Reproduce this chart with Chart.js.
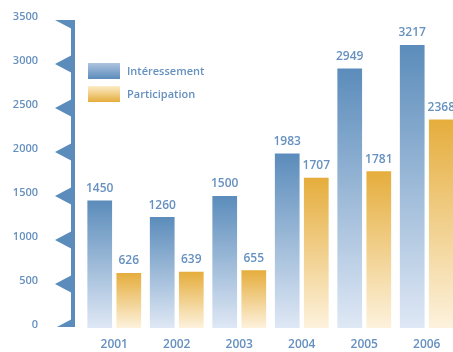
<!DOCTYPE html>
<html lang="fr">
<head>
<meta charset="UTF-8">
<title>Intéressement et participation</title>
<script src="https://cdn.jsdelivr.net/npm/chart.js"></script>
<style>
  html, body { margin: 0; padding: 0; background: #fff; overflow: hidden; }
  .wrap { position: relative; width: 470px; height: 352px; }
</style>
</head>
<body>
<div class="wrap"><canvas id="chart"></canvas></div>
<script>
const years = ['2001', '2002', '2003', '2004', '2005', '2006'];
const interessement = [1450, 1260, 1500, 1983, 2949, 3217];
const participation = [626, 639, 655, 1707, 1781, 2368];

const textColor = '#6590bf';
const axisColor = '#5b8cbb';
const fontFamily = '"Open Sans", "DejaVu Sans", sans-serif';

// vertical gradient for each bar, from its top down to zero
function barFill(topColor, bottomColor) {
  return (context) => {
    const chart = context.chart;
    const y = chart.scales.y;
    if (!chart.chartArea || !y || context.parsed == null) return topColor;
    const top = y.getPixelForValue(context.parsed.y);
    const bottom = y.getPixelForValue(0);
    const g = chart.ctx.createLinearGradient(0, top, 0, bottom);
    g.addColorStop(0, topColor);
    g.addColorStop(1, bottomColor);
    return g;
  };
}

// axis spine with notched arrowheads at each tick
const spinePlugin = {
  id: 'spine',
  afterDraw(chart) {
    const { ctx, chartArea } = chart;
    const y = chart.scales.y;
    const x0 = 71, x1 = 75, tip = 55, half = 9;
    ctx.save();
    ctx.beginPath();
    ctx.rect(0, chartArea.top, x1 + 1, chartArea.bottom - chartArea.top - 1);
    ctx.clip();
    ctx.fillStyle = axisColor;
    ctx.fillRect(x0, chartArea.top, x1 - x0, chartArea.bottom - chartArea.top);
    y.ticks.forEach(t => {
      const py = y.getPixelForValue(t.value);
      ctx.beginPath();
      ctx.moveTo(tip, py);
      ctx.lineTo(x0 + 1, py - half);
      ctx.lineTo(x0 + 1, py + half);
      ctx.closePath();
      ctx.fill();
    });
    ctx.restore();
  }
};

// value labels above the bars and the legend box in the upper left
const labelPlugin = {
  id: 'labels',
  afterDatasetsDraw(chart) {
    const { ctx } = chart;
    ctx.save();
    ctx.font = '600 12px ' + fontFamily;
    ctx.fillStyle = textColor;
    ctx.textAlign = 'center';
    ctx.textBaseline = 'middle';
    chart.data.datasets.forEach((ds, i) => {
      chart.getDatasetMeta(i).data.forEach((bar, j) => {
        ctx.fillText(ds.data[j], bar.x, bar.y - 12);
      });
    });

    const legend = [
      { label: chart.data.datasets[0].label, top: '#aec4df', bottom: '#5b8cbb', y: 63 },
      { label: chart.data.datasets[1].label, top: '#fcecc8', bottom: '#e5ad3c', y: 86 }
    ];
    ctx.textAlign = 'left';
    ctx.font = '600 11px ' + fontFamily;
    legend.forEach(item => {
      const g = ctx.createLinearGradient(0, item.y, 0, item.y + 16);
      g.addColorStop(0, item.top);
      g.addColorStop(1, item.bottom);
      ctx.fillStyle = g;
      ctx.fillRect(88, item.y, 32, 16);
      ctx.fillStyle = textColor;
      ctx.fillText(item.label, 127, item.y + 8.5);
    });
    ctx.restore();
  }
};

new Chart(document.getElementById('chart'), {
  type: 'bar',
  data: {
    labels: years,
    datasets: [
      {
        label: 'Intéressement',
        data: interessement,
        backgroundColor: barFill('#5b8cbb', '#dfe8f5'),
        categoryPercentage: 0.93,
        barPercentage: 0.85
      },
      {
        label: 'Participation',
        data: participation,
        backgroundColor: barFill('#e5ad3c', '#fdf2dd'),
        categoryPercentage: 0.93,
        barPercentage: 0.85
      }
    ]
  },
  options: {
    responsive: true,
    maintainAspectRatio: false,
    animation: false,
    layout: { padding: { top: 20, right: 12, left: 0, bottom: 0 } },
    plugins: {
      legend: { display: false },
      tooltip: { enabled: false }
    },
    scales: {
      x: {
        grid: { display: false, drawTicks: false },
        border: { display: false },
        ticks: {
          color: textColor,
          font: { family: fontFamily, size: 12, weight: '600' },
          padding: 9
        },
        afterFit(scale) { scale.height = 24; }
      },
      y: {
        min: 0,
        max: 3500,
        grid: { display: false, drawTicks: false },
        border: { display: false },
        ticks: {
          stepSize: 500,
          color: textColor,
          font: { family: fontFamily, size: 11, weight: '600' },
          padding: 45,
          labelOffset: -3,
          callback: (v) => String(v)
        },
        // the wide label padding should not shrink the plot vertically
        afterFit(scale) {
          scale.width = 83;
          scale.paddingTop = 6;
          scale.paddingBottom = 6;
        }
      }
    }
  },
  plugins: [spinePlugin, labelPlugin]
});
</script>
</body>
</html>
